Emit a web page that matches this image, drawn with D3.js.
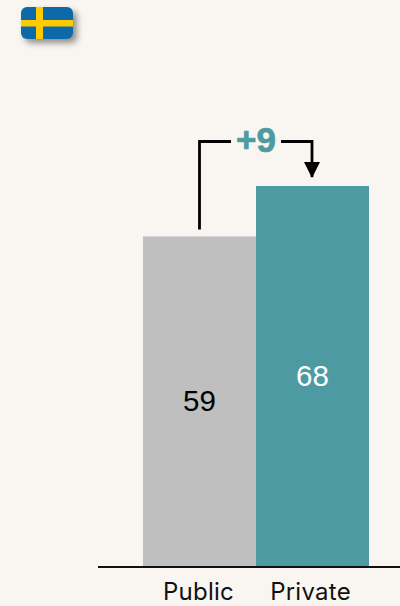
<!DOCTYPE html>
<html>
<head>
<meta charset="utf-8">
<script src="https://cdn.jsdelivr.net/npm/d3@7"></script>
<style>
html,body{margin:0;padding:0;background:#f9f6f1;}
svg{display:block;}
text{font-family:Inter,"Noto Sans",sans-serif;}
</style>
</head>
<body>
<svg id="chart" width="400" height="606"></svg>
<script>
const categories = ["Public", "Private"];
const values = [59, 68];
const barColors = ["#bfbfbf", "#4e9aa3"];
const valueColors = ["#000000", "#ffffff"];
const differenceLabel = "+9";

const svg = d3.select("#chart");
const defs = svg.append("defs");

const shadow = defs.append("filter").attr("id", "flagShadow")
  .attr("x", "-30%").attr("y", "-40%").attr("width", "170%").attr("height", "220%");
shadow.append("feDropShadow").attr("dx", 4).attr("dy", 4)
  .attr("stdDeviation", 3).attr("flood-color", "#000").attr("flood-opacity", 0.42);

defs.append("clipPath").attr("id", "flagClip")
  .append("rect").attr("x", 21).attr("y", 7).attr("width", 52).attr("height", 32).attr("rx", 6);

defs.append("marker").attr("id", "arrowHead")
  .attr("viewBox", "0 0 16 16").attr("refX", 8).attr("refY", 15)
  .attr("markerUnits", "userSpaceOnUse").attr("markerWidth", 16).attr("markerHeight", 16)
  .attr("orient", 0)
  .append("path").attr("d", "M0,0H16L8,16Z").attr("fill", "#000");

const x = d3.scaleBand().domain(categories).range([143, 369]).padding(0);
const y = d3.scaleLinear().domain([0, 68]).range([567, 186]);

// Swedish flag badge
const flag = svg.append("g");
flag.append("rect").attr("x", 21).attr("y", 7).attr("width", 52).attr("height", 32).attr("rx", 6)
  .attr("fill", "#0b69a8").attr("filter", "url(#flagShadow)");
const flagCross = flag.append("g").attr("clip-path", "url(#flagClip)").attr("fill", "#fecb00");
flagCross.append("rect").attr("x", 36).attr("y", 7).attr("width", 7).attr("height", 32);
flagCross.append("rect").attr("x", 21).attr("y", 20).attr("width", 52).attr("height", 6.5);

// Bars
svg.selectAll("rect.bar").data(categories).join("rect")
  .attr("class", "bar")
  .attr("x", d => x(d))
  .attr("y", (d, i) => y(values[i]))
  .attr("width", x.bandwidth())
  .attr("height", (d, i) => y(0) - y(values[i]))
  .attr("fill", (d, i) => barColors[i]);

// Value labels, centred in each bar
svg.selectAll("text.value").data(categories).join("text")
  .attr("class", "value")
  .attr("x", d => x(d) + x.bandwidth() / 2)
  .attr("y", (d, i) => (y(values[i]) + y(0)) / 2 + 9.5)
  .attr("text-anchor", "middle")
  .attr("font-size", 29.5)
  .style("font-family", "'Liberation Sans',Arial,sans-serif")
  .attr("fill", (d, i) => valueColors[i])
  .text((d, i) => values[i]);

// Baseline and category axis
const axis = d3.axisBottom(x).tickSize(0).tickPadding(16);
const axisG = svg.append("g").attr("transform", `translate(0,${y(0)})`).call(axis);
axisG.select(".domain").remove();
axisG.selectAll("text").attr("font-size", 24).attr("fill", "#111")
  .style("font-family", "Inter,'Noto Sans',sans-serif").attr("dy", "0.71em")
  .attr("letter-spacing", 0.25)
  .attr("dx", (d, i) => i === 0 ? -1 : -2);
svg.append("line").attr("x1", 98).attr("x2", 400).attr("y1", 567).attr("y2", 567)
  .attr("stroke", "#111").attr("stroke-width", 1.8);

// Difference bracket running from the public bar to the private bar
const cx = d => x(d) + x.bandwidth() / 2;
const bracketTop = 141.5;
const gapLeft = 231, gapRight = 281;
const bracket = svg.append("g").attr("fill", "none").attr("stroke", "#000").attr("stroke-width", 2.8);
bracket.append("path")
  .attr("d", `M${cx("Public")},${y(values[0]) - 7}V${bracketTop}H${gapLeft}`);
bracket.append("path")
  .attr("d", `M${gapRight},${bracketTop}H${cx("Private") - 0.5}V${y(values[1]) - 9}`)
  .attr("marker-end", "url(#arrowHead)");

svg.append("text")
  .attr("x", 256).attr("y", 151.5)
  .attr("text-anchor", "middle")
  .attr("font-size", 35).attr("font-weight", 700)
  .style("font-family", "'Liberation Sans',Arial,sans-serif")
  .attr("fill", "#4e9aa3")
  .attr("stroke", "#4e9aa3").attr("stroke-width", 0.7)
  .text(differenceLabel);
</script>
</body>
</html>
